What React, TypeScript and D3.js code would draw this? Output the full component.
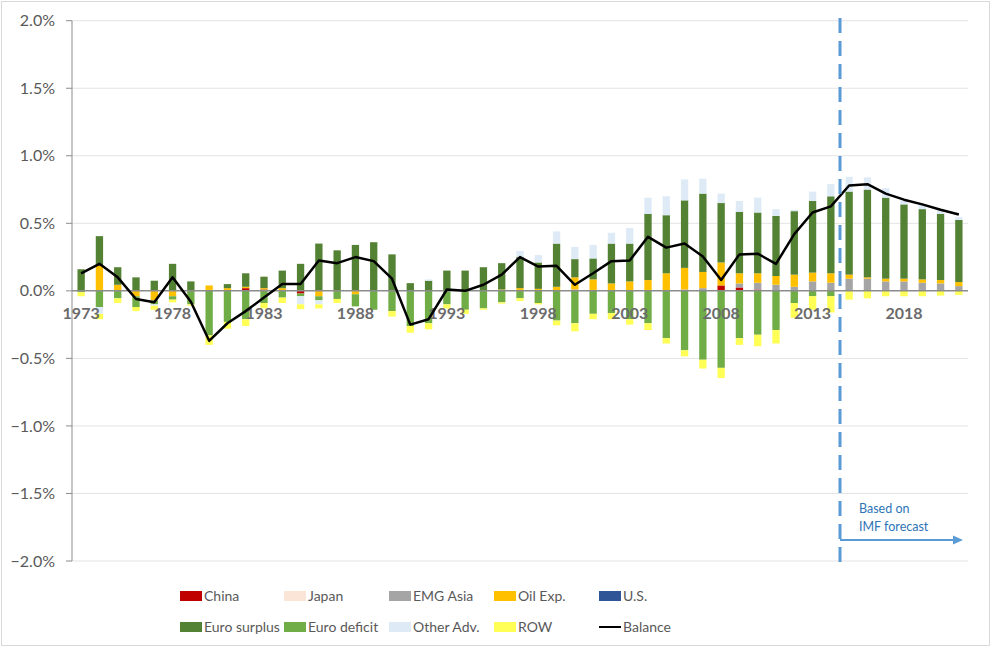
import React from 'react';
import * as d3 from 'd3';

const years = [1973, 1974, 1975, 1976, 1977, 1978, 1979, 1980, 1981, 1982, 1983, 1984, 1985, 1986, 1987, 1988, 1989, 1990, 1991, 1992, 1993, 1994, 1995, 1996, 1997, 1998, 1999, 2000, 2001, 2002, 2003, 2004, 2005, 2006, 2007, 2008, 2009, 2010, 2011, 2012, 2013, 2014, 2015, 2016, 2017, 2018, 2019, 2020, 2021];

const china = [0, 0, 0, 0, 0, 0, 0, 0, 0, 0.02, 0.01, 0, -0.02, 0, 0, 0, 0, 0, 0, 0, 0, 0, 0, 0, 0, 0, 0, 0, 0, 0, 0, 0, 0, 0, 0, 0.04, 0.025, 0.01, 0, 0, 0, 0, 0, 0, 0, 0, 0, 0, 0];
const japan = [0, 0, 0, 0, 0, 0, 0, 0, 0, 0, 0, 0, 0, 0, 0, 0, 0, 0, 0, 0, 0, 0, 0, 0, 0, 0, 0, 0, 0, 0, 0, 0, 0, 0, 0, 0, 0, 0, 0, 0, 0, 0, 0, 0, 0, 0, 0, 0, 0];
const emgAsia = [0, 0, 0, 0, 0, 0, 0, 0, 0, 0, 0, 0, 0, 0, 0, 0, 0, 0, 0, 0, 0, 0, 0, 0, 0, 0, 0, 0.01, 0, 0, 0, 0, 0, 0.01, 0.02, 0, 0.03, 0.05, 0.045, 0.03, 0.07, 0.06, 0.09, 0.09, 0.07, 0.07, 0.06, 0.055, 0.035];
const oilExp = [0, 0.185, 0.045, -0.04, -0.07, -0.04, 0, 0.04, 0.02, 0.01, 0.01, 0.02, 0, -0.04, 0, -0.025, 0, 0, 0, 0, 0, 0, 0, 0.01, 0.02, 0.015, 0.03, 0.09, 0.085, 0.055, 0.07, 0.08, 0.13, 0.16, 0.12, 0.17, 0.075, 0.07, 0.065, 0.09, 0.065, 0.07, 0.03, 0.01, 0.02, 0.02, 0.025, 0.025, 0.03];
const us = [0, 0, 0, 0, 0, 0, 0, 0, 0, 0, 0, 0, 0, 0, 0, 0, 0, 0, 0, 0, 0, 0, 0, 0, 0, 0, 0, 0, 0, 0, 0, 0, 0, 0, 0, 0, 0, 0, 0, 0, 0, 0, 0, 0, 0, 0, 0, 0, 0];
const euroSurplus = [0.16, 0.22, 0.13, 0.1, 0.075, 0.2, 0.07, 0, 0.03, 0.1, 0.085, 0.13, 0.2, 0.35, 0.3, 0.34, 0.36, 0.27, 0.057, 0.075, 0.15, 0.15, 0.175, 0.195, 0.23, 0.195, 0.32, 0.135, 0.155, 0.295, 0.28, 0.49, 0.43, 0.5, 0.58, 0.44, 0.455, 0.45, 0.445, 0.47, 0.53, 0.57, 0.615, 0.65, 0.6, 0.55, 0.52, 0.49, 0.46];
const euroDeficit = [-0.01, -0.12, -0.055, -0.08, -0.03, -0.025, -0.1, -0.33, -0.23, -0.21, -0.09, -0.05, -0.02, -0.03, -0.06, -0.09, -0.14, -0.15, -0.26, -0.24, -0.1, -0.14, -0.13, -0.085, -0.055, -0.09, -0.22, -0.24, -0.17, -0.165, -0.21, -0.24, -0.35, -0.44, -0.51, -0.57, -0.35, -0.325, -0.29, -0.09, -0.04, -0.04, 0, 0, 0, 0, 0, 0, 0];
const otherAdv = [0, -0.05, 0, 0, -0.01, 0, 0, 0, 0, 0, 0, 0, -0.06, -0.03, 0, 0, 0, 0, 0, 0.01, 0, 0, 0, 0, 0.045, 0.055, 0.09, 0.09, 0.1, 0.08, 0.115, 0.12, 0.14, 0.155, 0.11, 0.07, 0.08, 0.11, 0.05, 0.01, 0.07, 0.09, 0.11, 0.09, 0.07, 0.03, 0.03, 0.03, 0.02];
const row = [-0.03, -0.04, -0.035, -0.03, -0.03, -0.02, -0.01, -0.07, -0.05, -0.05, -0.04, -0.04, -0.035, -0.03, -0.03, 0, 0, -0.04, -0.05, -0.045, -0.03, -0.03, -0.01, -0.01, -0.02, -0.01, -0.035, -0.06, -0.04, -0.045, -0.04, -0.05, -0.04, -0.045, -0.065, -0.075, -0.05, -0.085, -0.1, -0.11, -0.1, -0.12, -0.065, -0.055, -0.04, -0.04, -0.04, -0.035, -0.03];
const balance = [0.13, 0.2, 0.1, -0.06, -0.085, 0.1, -0.08, -0.37, -0.24, -0.15, -0.05, 0.05, 0.05, 0.225, 0.205, 0.25, 0.22, 0.09, -0.25, -0.21, 0.01, 0, 0.045, 0.12, 0.25, 0.18, 0.185, 0.045, 0.13, 0.22, 0.225, 0.4, 0.32, 0.35, 0.255, 0.08, 0.27, 0.275, 0.2, 0.42, 0.58, 0.625, 0.78, 0.79, 0.72, 0.675, 0.64, 0.6, 0.565];

const seriesNames = ['China', 'Japan', 'EMG Asia', 'Oil Exp.', 'U.S.', 'Euro surplus', 'Euro deficit', 'Other Adv.', 'ROW'];
const seriesValues = [china, japan, emgAsia, oilExp, us, euroSurplus, euroDeficit, otherAdv, row];
const yTickValues = [-2, -1.5, -1, -0.5, 0, 0.5, 1, 1.5, 2];
const xTickLabels = ['1973', '1978', '1983', '1988', '1993', '1998', '2003', '2008', '2013', '2018'];
const forecastStartYear = 2015;
const forecastNote = ['Based on', 'IMF forecast'];

const colors: Record<string, string> = {
  'China': '#c00000',
  'Japan': '#fbe5d6',
  'EMG Asia': '#a5a5a5',
  'Oil Exp.': '#ffc000',
  'U.S.': '#2f5597',
  'Euro surplus': '#548235',
  'Euro deficit': '#70ad47',
  'Other Adv.': '#deebf7',
  'ROW': '#ffff55',
};

const FONT = "Lato, 'Noto Sans', sans-serif";

export default function App() {
  const left = 72, right = 968, top = 20.7, bottom = 561;
  const x = d3.scaleBand<string>().domain(years.map(String)).range([left, right]).paddingInner(0.6).paddingOuter(0.3);
  const y = d3.scaleLinear().domain([-2, 2]).range([bottom, top]);
  const bw = x.bandwidth();
  const cx = (yr: number) => (x(String(yr)) as number) + bw / 2;

  const rows = years.map((yr, i) => {
    const r: any = { year: yr };
    seriesNames.forEach((n, k) => { r[n] = seriesValues[k][i]; });
    return r;
  });
  const stacked = d3.stack<any>().keys(seriesNames).offset(d3.stackOffsetDiverging)(rows);

  const line = d3.line<number>().x((_, i) => cx(years[i])).y((d) => y(d));

  const fx = ((x(String(forecastStartYear - 1)) as number) + bw + (x(String(forecastStartYear)) as number)) / 2;

  const legendRows = [
    ['China', 'Japan', 'EMG Asia', 'Oil Exp.', 'U.S.'],
    ['Euro surplus', 'Euro deficit', 'Other Adv.', 'ROW', 'Balance'],
  ];
  const legendX = [180, 284, 389, 494, 599];
  const legendY = [596, 627];

  return (
    <svg width={992} height={648} style={{ position: 'absolute', left: 0, top: 0, background: '#fff' }} fontFamily={FONT}>
      <rect x={1.5} y={1.5} width={988} height={644} fill="#fff" stroke="#d9d9d9" />
      {yTickValues.map((t) => (
        <line key={'g' + t} x1={left} x2={right} y1={y(t)} y2={y(t)} stroke={t === 0 ? 'none' : '#e3e3e3'} strokeWidth={1} />
      ))}
      {stacked.map((s) => (
        <g key={s.key} fill={colors[s.key]}>
          {s.map((d, i) => {
            const y0 = y(d[0]);
            const y1 = y(d[1]);
            const h = Math.abs(y0 - y1);
            if (h < 0.01) return null;
            return <rect key={i} x={x(String(years[i]))} y={Math.min(y0, y1)} width={bw} height={h} />;
          })}
        </g>
      ))}
      <line x1={left} x2={right} y1={y(0)} y2={y(0)} stroke="#8c8c8c" strokeWidth={1.5} />
      <line x1={left} x2={left} y1={top} y2={bottom} stroke="#8c8c8c" strokeWidth={1} />
      {yTickValues.map((t) => (
        <g key={'t' + t}>
          <line x1={left - 6} x2={left} y1={y(t)} y2={y(t)} stroke="#8c8c8c" />
          <text x={55} y={y(t)} dy="0.35em" textAnchor="end" fontSize={16} fill="#595959">
            {d3.format('.1f')(t) + '%'}
          </text>
        </g>
      ))}
      {xTickLabels.map((l) => (
        <text key={l} x={cx(+l)} y={y(0) + 28} textAnchor="middle" fontSize={16} fontWeight={700} fill="#6b6b6b">
          {l}
        </text>
      ))}
      <path d={line(balance) || ''} fill="none" stroke="#000" strokeWidth={2.5} strokeLinejoin="round" />
      <line x1={fx} x2={fx} y1={18} y2={570} stroke="#5b9bd5" strokeWidth={3} strokeDasharray="15,8" />
      <line x1={fx} x2={955} y1={540} y2={540} stroke="#5b9bd5" strokeWidth={2} />
      <path d={`M${963},540 L${953},535.5 L${953},544.5 Z`} fill="#5b9bd5" />
      {forecastNote.map((t, i) => (
        <text key={t} x={859} y={513 + i * 18} fontSize={12.5} fill="#2e75b6">{t}</text>
      ))}
      {legendRows.map((r, ri) =>
        r.map((n, ci) => (
          <g key={n} transform={`translate(${legendX[ci]},${legendY[ri]})`}>
            {n === 'Balance' ? (
              <line x1={0} x2={22} y1={0} y2={0} stroke="#000" strokeWidth={2} />
            ) : (
              <rect x={0} y={-5} width={22} height={10} fill={colors[n]} />
            )}
            <text x={24} y={0} dy="0.35em" fontSize={14} fill="#595959">{n}</text>
          </g>
        ))
      )}
    </svg>
  );
}
